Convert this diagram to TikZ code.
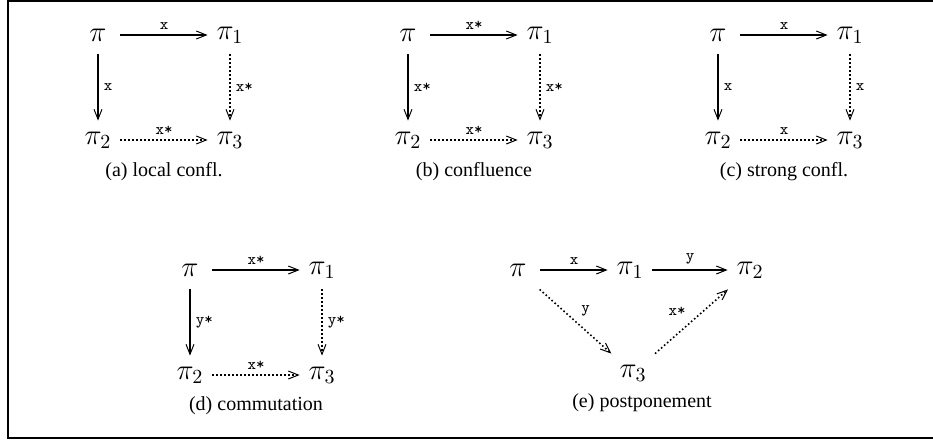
\documentclass[tikz,border=0pt]{standalone}
\usepackage[no-math]{fontspec}
\setmainfont{Liberation Serif}
\usetikzlibrary{arrows.meta}
\usetikzlibrary{positioning}

\begin{document}
\begin{tikzpicture}[x=0.5pt, y=-0.5pt,
    state/.style={minimum width=22pt, minimum height=19pt, inner sep=0pt, font=\Large},
    lbl/.style={font=\ttfamily\footnotesize, inner sep=2.5pt},
    subcap/.style={font=\normalsize},
    move/.style={-{Straight Barb[length=5pt, width=4pt, line width=0.5pt]}, line width=0.8pt},
    moves/.style={move, dash pattern=on 0.8pt off 1.2pt},
    node distance=52.5pt and 66pt, on grid]
    \useasboundingbox (0,0) rectangle (933,441);
    \draw[line width=1pt] (8,1) rectangle (950,438);

    % (a) local confluence
    \node[state] (a)  at (98,35) {$\pi$};
    \node[state] (a1) [right=of a]  {$\pi_1$};
    \node[state] (a2) [below=of a]  {$\pi_2$};
    \node[state] (a3) [below=of a1] {$\pi_3$};
    \draw[move]  (a) -- node[lbl, above] {x} (a1);
    \draw[move]  (a) -- node[lbl, right] {x} (a2);
    \draw[moves] (a1) -- node[lbl, right] {x*} (a3);
    \draw[moves] (a2) -- node[lbl, above] {x*} (a3);
    \node[subcap] (capa) at (164,172) {(a) local confl.};

    % (b) confluence
    \node[state] (b)  at (408,35) {$\pi$};
    \node[state] (b1) [right=of b]  {$\pi_1$};
    \node[state] (b2) [below=of b]  {$\pi_2$};
    \node[state] (b3) [below=of b1] {$\pi_3$};
    \draw[move]  (b) -- node[lbl, above] {x*} (b1);
    \draw[move]  (b) -- node[lbl, right] {x*} (b2);
    \draw[moves] (b1) -- node[lbl, right] {x*} (b3);
    \draw[moves] (b2) -- node[lbl, above] {x*} (b3);
    \node[subcap] (capb) at (474,172) {(b) confluence};

    % (c) strong confluence
    \node[state] (c)  at (718,35) {$\pi$};
    \node[state] (c1) [right=of c]  {$\pi_1$};
    \node[state] (c2) [below=of c]  {$\pi_2$};
    \node[state] (c3) [below=of c1] {$\pi_3$};
    \draw[move]  (c) -- node[lbl, above] {x} (c1);
    \draw[move]  (c) -- node[lbl, right] {x} (c2);
    \draw[moves] (c1) -- node[lbl, right] {x} (c3);
    \draw[moves] (c2) -- node[lbl, above] {x} (c3);
    \node[subcap] (capc) at (784,172) {(c) strong confl.};

    % (d) commutation
    \node[state] (d)  at (190,270) {$\pi$};
    \node[state] (d1) [right=of d]  {$\pi_1$};
    \node[state] (d2) [below=of d]  {$\pi_2$};
    \node[state] (d3) [below=of d1] {$\pi_3$};
    \draw[move]  (d) -- node[lbl, above] {x*} (d1);
    \draw[move]  (d) -- node[lbl, right] {y*} (d2);
    \draw[moves] (d1) -- node[lbl, right] {y*} (d3);
    \draw[moves] (d2) -- node[lbl, above] {x*} (d3);
    \node[subcap] (capd) at (256,406) {(d) commutation};

    % (e) postponement
    \node[state] (e)  at (518,270) {$\pi$};
    \node[state] (e1) [right=56pt of e]  {$\pi_1$};
    \node[state] (e2) [right=60pt of e1] {$\pi_2$};
    \node[state] (e3) at (633,373) {$\pi_3$};
    \draw[move]  (e) -- node[lbl, above] {x} (e1);
    \draw[move]  (e1) -- node[lbl, above] {y} (e2);
    \draw[moves] (e) -- node[lbl, above right] {y} (e3);
    \draw[moves] (e3) -- node[lbl, above left] {x*} (e2);
    \node[subcap] (cape) at (642,403) {(e) postponement};
\end{tikzpicture}
\end{document}
